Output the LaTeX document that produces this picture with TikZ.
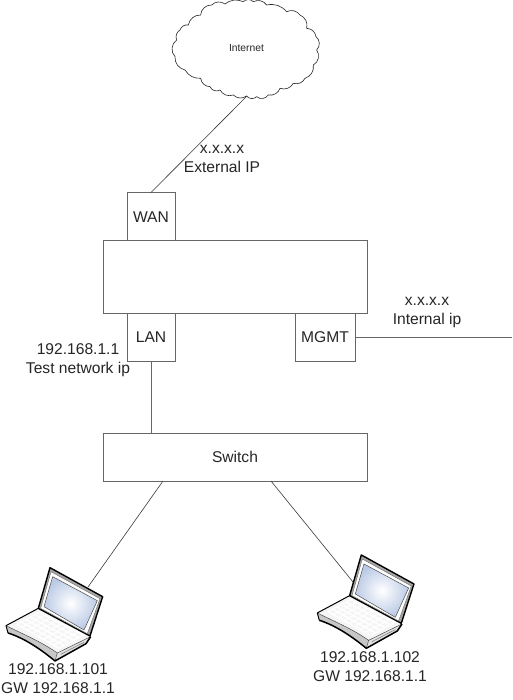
\documentclass[tikz,border=0pt]{standalone}
\usepackage{fontspec}
\setmainfont{Liberation Sans}
\definecolor{boxline}{HTML}{666666}
\definecolor{wire}{HTML}{3A3A3A}
\definecolor{screenblue}{HTML}{BCCBE6}
\definecolor{inktext}{HTML}{262626}
\tikzset{
  port/.style={draw=boxline,line width=1pt,fill=white,minimum width=#1,minimum height=48pt,inner sep=0pt,font=\fontsize{15.6}{18}\selectfont,text=inktext},
  wirestyle/.style={draw=wire,line width=0.6pt},
  trunk/.style={draw=boxline,line width=1pt},
  lbl/.style={align=center,font=\fontsize{15.6}{19}\selectfont,text=inktext,inner sep=0pt},
  pics/laptop/.style={code={
    \begin{scope}[x=0.3333pt,y=-0.3333pt,line join=round]
      \fill[black!4] (18,212) -- (115,160) -- (272,245) -- (172,294) .. controls (120,258) and (70,238) .. cycle;
      \foreach \t in {0,0.125,...,1.01}{
        \draw[white,line width=1.2pt] ({50+\t*128},{208+\t*72}) -- ({118+\t*132},{172+\t*68});
      }
      \foreach \t in {0,0.2,...,1.01}{
        \draw[white,line width=1.4pt] ({50+\t*68},{208-\t*36}) -- ({178+\t*72},{280-\t*40});
      }
      \fill[black!22] (18,212) -- (24,234) .. controls (75,250) and (125,285) .. (165,318) -- (172,294) .. controls (120,258) and (70,238) .. cycle;
      \fill[black!12] (172,294) -- (272,245) -- (258,266) -- (165,318) -- cycle;
      \draw[black!55,line width=0.5pt] (182,298) -- (252,262);
      \draw[black!70,line width=0.5pt] (18,212) .. controls (70,238) and (120,258) .. (172,294) -- (165,318);
      \draw[black!70,line width=0.5pt] (172,294) -- (272,245);
      \draw[black,line width=1pt] (115,160) -- (18,212) -- (24,234);
      \draw[black,line width=1.5pt] (24,234) .. controls (75,250) and (125,285) .. (165,318) -- (258,266) -- (272,245);
      \fill[black!35,draw=black,line width=1.4pt] (115,160) -- (150,38) -- (308,125) -- (270,243) -- cycle;
      \fill[white,draw=black!55,line width=0.5pt] (122,160) -- (153,50) -- (300,131) -- (262,236) -- cycle;
      \shade[inner color=white,outer color=screenblue,draw=black!70,line width=0.5pt] (132,155) -- (158,65) -- (292,137) -- (252,225) -- cycle;
    \end{scope}
  }}
}
\begin{document}
\begin{tikzpicture}[x=1pt,y=-1pt]
\useasboundingbox (0,0) rectangle (512,700);
\fill[white] (0,0) rectangle (512,700);
% cloud
\begin{scope}[shift={(130,0)},x=0.3333pt,y=-0.3333pt]
\draw[black!85,line width=0.6pt,fill=white]
 (175,75) to[bend left=40] (212,45) to[bend left=45] (245,15) to[bend left=40] (285,12)
 to[bend left=30] (340,5) to[bend left=45] (370,5) to[bend left=40] (410,15)
 to[bend left=30] (470,35) to[bend left=40] (510,45) to[bend left=40] (530,85)
 to[bend left=40] (558,110) to[bend left=50] (560,150) to[bend left=50] (550,195)
 to[bend left=40] (525,235) to[bend left=40] (490,250) to[bend left=40] (450,265)
 to[bend left=40] (415,285) to[bend left=50] (380,290) to[bend left=50] (350,288)
 to[bend left=40] (310,285) to[bend left=40] (270,270) to[bend left=50] (240,260)
 to[bend left=40] (212,235) to[bend left=30] (165,210) to[bend left=40] (135,170)
 to[bend left=50] (140,120) to[bend left=40] (150,90) to[bend left=40] cycle;
\end{scope}
\node[inner sep=0pt,font=\fontsize{10.3}{12}\selectfont,text=inktext] (internet) at (246.5,48) {Internet};
\coordinate (cloudfoot) at (247,96);
\coordinate (mgmtend) at (512,337);
% boxes
\node[port=264pt,minimum height=72pt] (main) at (235,277) {};
\node[port=48pt] (wan) at (151,217) {WAN};
\node[port=48pt] (lan) at (151,337) {LAN};
\node[port=60pt] (mgmt) at (325,337) {MGMT};
\node[port=264pt] (switch) at (235,457) {Switch};
% laptops
\pic (lap1) at (0,555) {laptop};
\pic (lap2) at (311.3,542.3) {laptop};
\coordinate (lapa) at (88,587);
\coordinate (lapb) at (353,582);
\coordinate (swl) at (163,481);
\coordinate (swr) at (271,481);
% wires
\draw[wirestyle] (wan.north) -- (cloudfoot);
\draw[trunk] (lan.south) -- (switch.north -| lan.south);
\draw[trunk] (mgmt.east) -- (mgmtend);
\draw[wirestyle] (swl) -- (lapa);
\draw[wirestyle] (swr) -- (lapb);
% labels
\node[lbl] (l1) at (222,159) {x.x.x.x\\External IP};
\node[lbl] (l2) at (427,312.5) {x.x.x.x\\Internal ip};
\node[lbl] (l3) at (78,360) {192.168.1.1\\Test network ip};
\node[lbl] (l4) at (58,679) {192.168.1.101\\GW 192.168.1.1};
\node[lbl] (l5) at (370,667) {192.168.1.102\\GW 192.168.1.1};
\end{tikzpicture}
\end{document}
